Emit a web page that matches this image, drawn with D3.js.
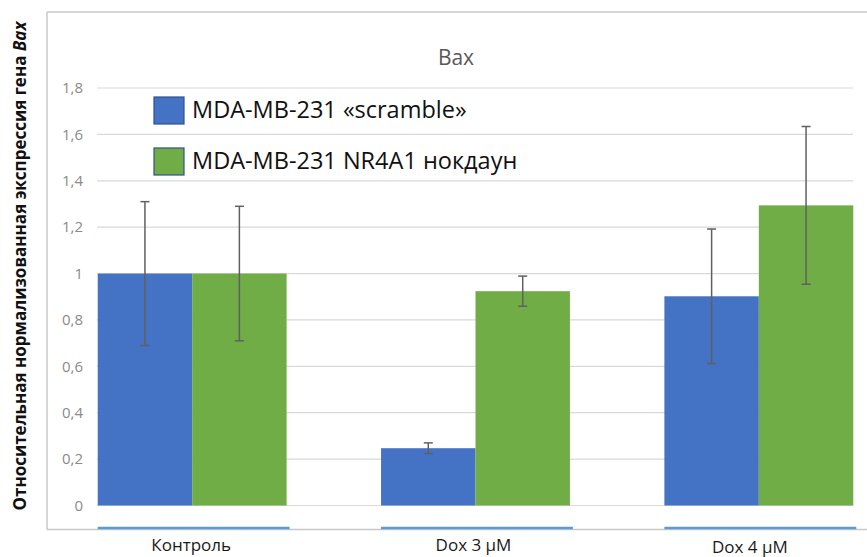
<!DOCTYPE html>
<html>
<head>
<meta charset="utf-8">
<script src="https://cdn.jsdelivr.net/npm/d3@7"></script>
<style>
  html, body { margin: 0; padding: 0; background: #fff; }
  svg { display: block; font-family: "Open Sans", "Liberation Sans", sans-serif; }
</style>
</head>
<body>
<svg id="chart" width="867" height="557"></svg>
<script>
// ---- data ----
const categories = ["Контроль", "Dox 3 µM", "Dox 4 µM"];
const seriesNames = ["MDA-MB-231 «scramble»", "MDA-MB-231 NR4A1 нокдаун"];
const scrambleValues = [1.0, 0.247, 0.902];
const scrambleErrors = [0.31, 0.023, 0.29];
const knockdownValues = [1.0, 0.924, 1.294];
const knockdownErrors = [0.29, 0.065, 0.34];
const yTicks = [0, 0.2, 0.4, 0.6, 0.8, 1, 1.2, 1.4, 1.6, 1.8];
const yTickLabels = ["0", "0,2", "0,4", "0,6", "0,8", "1", "1,2", "1,4", "1,6", "1,8"];
const colors = ["#4472C4", "#70AD47"];
const titleText = "Bax";

const series = [
  { name: seriesNames[0], values: scrambleValues, errors: scrambleErrors, color: colors[0] },
  { name: seriesNames[1], values: knockdownValues, errors: knockdownErrors, color: colors[1] }
];

const svg = d3.select("#chart");

// ---- scales ----
const y = d3.scaleLinear().domain([0, 1.8]).range([505.5, 88]);
const x0 = d3.scaleBand().domain(categories).range([50.5, 900.5]).paddingInner(0).paddingOuter(0);
const x1 = d3.scaleBand().domain(seriesNames).range([0, x0.bandwidth()]).paddingInner(0).paddingOuter(0.5);

const plotLeft = 97, plotRight = 853;

// ---- frame ----
const frame = svg.append("g").attr("stroke", "#c8c8c8").attr("stroke-width", 1.5).attr("fill", "none");
frame.append("line").attr("x1", 47).attr("x2", 47).attr("y1", 12).attr("y2", 529.5);
frame.append("line").attr("x1", 47).attr("x2", 867).attr("y1", 12).attr("y2", 12);
frame.append("line").attr("x1", 47).attr("x2", 867).attr("y1", 529.5).attr("y2", 529.5);

// ---- gridlines ----
svg.append("g").selectAll("line").data(yTicks).join("line")
  .attr("x1", plotLeft).attr("x2", plotRight)
  .attr("y1", d => y(d)).attr("y2", d => y(d))
  .attr("stroke", "#d9d9d9").attr("stroke-width", 1.2);

// ---- y axis labels ----
svg.append("g").selectAll("text").data(yTicks).join("text")
  .attr("x", 83).attr("y", d => y(d)).attr("dy", "0.35em")
  .attr("text-anchor", "end")
  .attr("font-size", 15).attr("fill", "#8a8a8a")
  .text((d, i) => yTickLabels[i]);

// ---- bars ----
const groups = svg.append("g").selectAll("g").data(series).join("g").attr("fill", d => d.color);
groups.selectAll("rect").data(s => s.values.map((v, i) => ({ s, v, c: categories[i] }))).join("rect")
  .attr("x", d => x0(d.c) + x1(d.s.name))
  .attr("width", x1.bandwidth())
  .attr("y", d => y(d.v))
  .attr("height", d => y(0) - y(d.v));

// ---- error bars ----
const errData = [];
series.forEach(s => s.values.forEach((v, i) => errData.push({
  cx: x0(categories[i]) + x1(s.name) + x1.bandwidth() / 2,
  lo: v - s.errors[i], hi: v + s.errors[i]
})));
const eb = svg.append("g").attr("stroke", "#606060").attr("stroke-width", 1.5);
eb.selectAll(".v").data(errData).join("line")
  .attr("x1", d => d.cx).attr("x2", d => d.cx)
  .attr("y1", d => y(d.lo)).attr("y2", d => y(d.hi));
eb.selectAll(".t").data(errData).join("line")
  .attr("x1", d => d.cx - 4.5).attr("x2", d => d.cx + 4.5)
  .attr("y1", d => y(d.hi)).attr("y2", d => y(d.hi));
eb.selectAll(".b").data(errData).join("line")
  .attr("x1", d => d.cx - 4.5).attr("x2", d => d.cx + 4.5)
  .attr("y1", d => y(d.lo)).attr("y2", d => y(d.lo));

// ---- category underline marks ----
svg.append("g").selectAll("line").data(categories).join("line")
  .attr("x1", c => x0(c) + x1(seriesNames[0]))
  .attr("x2", c => x0(c) + x1(seriesNames[1]) + x1.bandwidth() + 3)
  .attr("y1", 528).attr("y2", 528)
  .attr("stroke", "#5B9BD5").attr("stroke-width", 2.5);

// ---- x labels ----
const labelShift = [-1, -2, -9];
const labelBase = [551, 551, 553];
svg.append("g").selectAll("text").data(categories).join("text")
  .attr("x", (c, i) => x0(c) + x0.bandwidth() / 2 + labelShift[i])
  .attr("y", (c, i) => labelBase[i])
  .attr("text-anchor", "middle")
  .attr("font-size", 17).attr("fill", "#1a1a1a")
  .text(c => c);

// ---- title ----
svg.append("text").attr("x", 456).attr("y", 65).attr("text-anchor", "middle")
  .attr("font-size", 21).attr("fill", "#595959").text(titleText);

// ---- y axis title ----
const yt = svg.append("text")
  .attr("transform", "translate(26,266) rotate(-90)")
  .attr("text-anchor", "middle")
  .attr("font-size", 17).attr("font-weight", "bold").attr("fill", "#111");
yt.append("tspan").text("Относительная нормализованная экспрессия гена ");
yt.append("tspan").attr("font-style", "italic").text("Bax");

// ---- legend ----
const legend = svg.append("g").selectAll("g").data(series).join("g")
  .attr("transform", (d, i) => `translate(154,${i === 0 ? 97 : 148})`);
legend.append("rect").attr("width", 30).attr("height", 27)
  .attr("fill", d => d.color).attr("stroke", "#2F528F").attr("stroke-width", 1.2);
legend.append("text").attr("x", 38).attr("y", 21)
  .attr("font-size", 23.5).attr("fill", "#111").text(d => d.name);
</script>
</body>
</html>
